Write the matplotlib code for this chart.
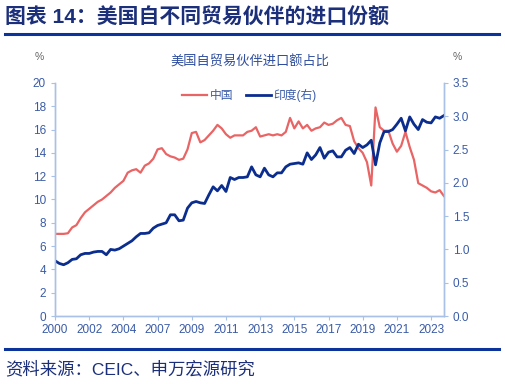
import numpy as np
import matplotlib
matplotlib.use("Agg")
import matplotlib.pyplot as plt

plt.rcParams['font.family'] = ['Liberation Sans', 'Noto Sans CJK SC', 'DejaVu Sans']

# 美国自中国、印度进口额占比（%），季度序列
china = [7.05, 7.05, 7.05, 7.1, 7.6, 7.8, 8.4, 8.9, 9.2, 9.5,
         9.8, 10.0, 10.3, 10.6, 11.0, 11.3, 11.6, 12.3, 12.5, 12.6,
         12.3, 12.9, 13.1, 13.5, 14.3, 14.4, 13.9, 13.7, 13.6, 13.4,
         13.5, 14.3, 15.7, 15.8, 14.9, 15.1, 15.5, 15.9, 16.4, 16.1,
         15.6, 15.3, 15.5, 15.5, 15.5, 15.8, 15.9, 16.2, 15.4, 15.5,
         15.6, 15.5, 15.6, 15.5, 15.8, 17.0, 16.1, 16.7, 16.1, 16.4,
         15.9, 16.1, 16.2, 16.6, 16.4, 16.5, 16.8, 17.0, 16.4, 16.3,
         15.0, 14.4, 14.0, 13.2, 11.2, 17.9, 16.2, 15.9, 15.9, 14.8,
         14.1, 14.6, 15.8, 14.5, 13.4, 11.4, 11.2, 11.0, 10.7, 10.6,
         10.8, 10.3]
india = [0.83, 0.79, 0.77, 0.80, 0.85, 0.86, 0.92, 0.94, 0.94, 0.96,
         0.97, 0.97, 0.92, 1.00, 0.99, 1.01, 1.05, 1.09, 1.13, 1.19,
         1.24, 1.24, 1.25, 1.32, 1.36, 1.38, 1.40, 1.52, 1.52, 1.43,
         1.44, 1.62, 1.70, 1.72, 1.70, 1.69, 1.82, 1.94, 1.88, 1.96,
         1.87, 2.08, 2.05, 2.08, 2.08, 2.09, 2.24, 2.12, 2.09, 2.22,
         2.12, 2.09, 2.15, 2.15, 2.24, 2.28, 2.29, 2.30, 2.28, 2.45,
         2.35, 2.42, 2.53, 2.37, 2.46, 2.48, 2.39, 2.39, 2.49, 2.53,
         2.44, 2.58, 2.53, 2.57, 2.64, 2.27, 2.60, 2.77, 2.77, 2.80,
         2.88, 2.97, 2.78, 2.99, 2.88, 2.80, 2.95, 2.91, 2.90, 2.99,
         2.97, 3.01]
year_labels = ['2000', '2002', '2004', '2007', '2009', '2011',
               '2013', '2015', '2017', '2019', '2021', '2023']

x = np.arange(len(china))
axis_col = '#A9C1E6'
tick_col = '#3A5BA8'
red = '#E96464'
navy = '#0B2D8E'

fig = plt.figure(figsize=(5.05, 3.84), dpi=100)
ax = fig.add_axes([0.109, 0.177, 0.770, 0.607])
ax2 = ax.twinx()

l1, = ax.plot(x, china, color=red, lw=1.6, label='中国')
l2, = ax2.plot(x, india, color=navy, lw=2.0, label='印度(右)')

ax.set_xlim(0, len(china) - 1)
ax.set_ylim(0, 20)
ax.set_yticks(range(0, 21, 2))
ax2.set_ylim(0, 3.5)
ax2.set_yticks(np.arange(0, 3.51, 0.5))
ax2.set_yticklabels([f'{v:.1f}' for v in np.arange(0, 3.51, 0.5)])
ax.set_xticks(np.arange(0, len(china), 8))
ax.set_xticklabels(year_labels)

for a in (ax, ax2):
    a.spines['top'].set_visible(False)
    for s in ('left', 'right', 'bottom'):
        a.spines[s].set_color(axis_col)
        a.spines[s].set_linewidth(1.0)
    a.tick_params(colors=axis_col, labelcolor=tick_col, labelsize=8.5,
                  length=3, width=0.8)
ax.tick_params(axis='x', pad=3)

ax.legend(handles=[l1, l2], loc='upper center', bbox_to_anchor=(0.5, 1.02),
          ncol=2, frameon=False, fontsize=8.5, handlelength=2.1,
          handletextpad=0.2, columnspacing=1.1, labelcolor=tick_col)

fig.text(0.495, 0.838, '美国自贸易伙伴进口额占比', ha='center', va='center',
         fontsize=9.5, color='#2E4D9E')
fig.text(0.078, 0.852, '%', ha='center', va='center', fontsize=7.5, color='#666666')
fig.text(0.905, 0.852, '%', ha='center', va='center', fontsize=7.5, color='#666666')

fig.text(0.01, 0.953, '图表 14：美国自不同贸易伙伴的进口份额', ha='left', va='center',
         fontsize=15, fontweight='heavy', color='#1B2F7A')
fig.add_artist(plt.Line2D([0.01, 0.988], [0.911, 0.911], color='#0B3399', lw=2.2))
fig.add_artist(plt.Line2D([0.01, 0.988], [0.091, 0.091], color='#0B3399', lw=2.2))
fig.text(0.01, 0.038, '资料来源：CEIC、申万宏源研究', ha='left', va='center',
         fontsize=12.5, color='#1B2F7A')

fig.savefig('out.png', dpi=100)
